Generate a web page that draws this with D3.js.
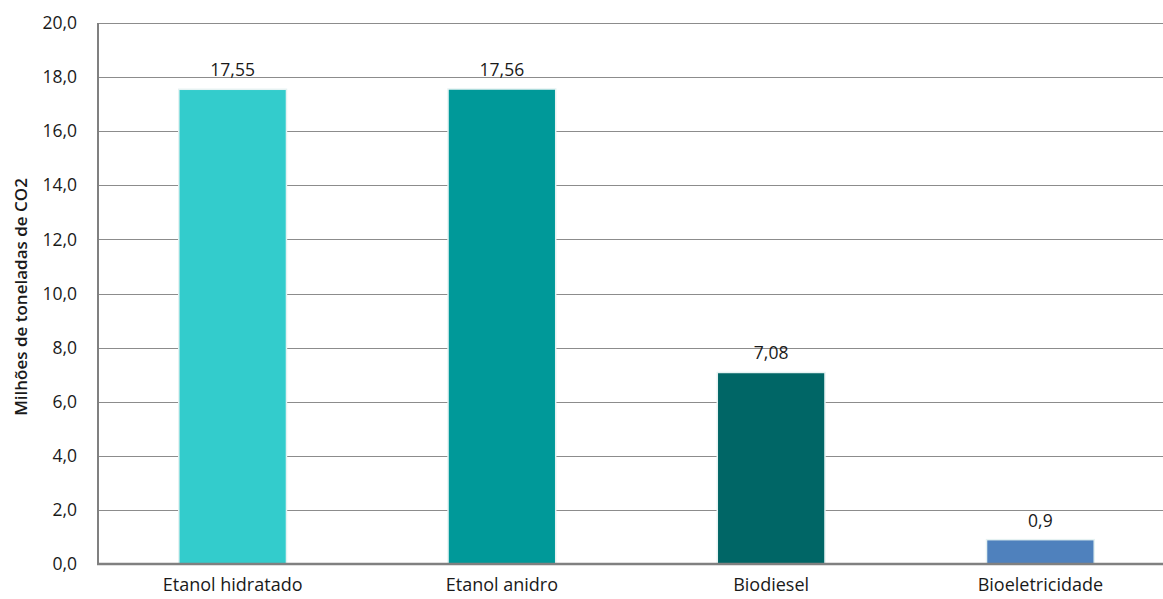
<!DOCTYPE html>
<html>
<head>
<meta charset="utf-8">
<script src="https://cdn.jsdelivr.net/npm/d3@7"></script>
<style>
  body { margin: 0; background: #fff; }
  svg text { font-family: "Open Sans", sans-serif; fill: #1a1a1a; }
</style>
</head>
<body>
<div id="main"></div>
<script>
const layout = {
    width: 1163,
    height: 599,
    left: 98,
    right: 1175,
    top: 23,
    bottom: 564
};

// data
const categories = ["Etanol hidratado", "Etanol anidro", "Biodiesel", "Bioeletricidade"];
const values = [17.55, 17.56, 7.08, 0.9];
const valueLabels = ["17,55", "17,56", "7,08", "0,9"];
const barColors = ["#33cccc", "#009999", "#006666", "#4f81bd"];
const yTicks = [0, 2, 4, 6, 8, 10, 12, 14, 16, 18, 20];

let svg = d3.select("#main").append("svg")
    .attr("width", layout.width)
    .attr("height", layout.height);

let x = d3.scaleBand()
    .domain(categories)
    .range([layout.left, layout.right])
    .paddingInner(0.6)
    .paddingOuter(0.3);

let y = d3.scaleLinear()
    .domain([0, 20])
    .range([layout.bottom, layout.top]);

// gridlines
svg.append("g")
    .selectAll("line")
    .data(yTicks.filter(d => d > 0))
    .enter().append("line")
    .attr("x1", layout.left)
    .attr("x2", layout.right)
    .attr("y1", d => Math.round(y(d)) + 0.5)
    .attr("y2", d => Math.round(y(d)) + 0.5)
    .attr("stroke", "#8c8c8c")
    .attr("stroke-width", 1.2);

// y axis labels
let yAxis = svg.append("g")
    .attr("transform", `translate(${layout.left},0)`)
    .call(d3.axisLeft(y).tickValues(yTicks).tickSize(0).tickPadding(21)
        .tickFormat(d => d3.format(".1f")(d).replace(".", ",")));
yAxis.select(".domain").remove();
yAxis.selectAll("text").attr("font-size", 17.5).style("font-family", "'Open Sans', sans-serif");

// bars
svg.selectAll(".bar")
    .data(values)
    .enter().append("rect")
    .attr("class", "bar")
    .attr("x", (d, i) => x(categories[i]))
    .attr("y", d => y(d))
    .attr("width", x.bandwidth())
    .attr("height", d => y(0) - y(d))
    .attr("fill", (d, i) => barColors[i])
    .attr("stroke", "#e6f2f2")
    .attr("stroke-width", 1.5);

// value labels
svg.selectAll(".val")
    .data(values)
    .enter().append("text")
    .attr("class", "val")
    .attr("x", (d, i) => x(categories[i]) + x.bandwidth() / 2)
    .attr("y", d => y(d) - 13)
    .attr("text-anchor", "middle")
    .attr("font-size", 17.5)
    .text((d, i) => valueLabels[i]);

// axes lines
svg.append("line")
    .attr("x1", layout.left).attr("x2", layout.left)
    .attr("y1", layout.top).attr("y2", layout.bottom + 1)
    .attr("stroke", "#808080").attr("stroke-width", 2);
svg.append("line")
    .attr("x1", layout.left - 1).attr("x2", layout.right)
    .attr("y1", layout.bottom).attr("y2", layout.bottom)
    .attr("stroke", "#808080").attr("stroke-width", 2.5);

// x axis labels
let xAxis = svg.append("g")
    .attr("transform", `translate(0,${layout.bottom})`)
    .call(d3.axisBottom(x).tickSize(0).tickPadding(14));
xAxis.select(".domain").remove();
xAxis.selectAll("text").attr("font-size", 18).style("font-family", "'Open Sans', sans-serif");

// y axis title
svg.append("text")
    .attr("transform", `translate(27,297) rotate(-90)`)
    .attr("text-anchor", "middle")
    .attr("font-size", 17)
    .attr("font-weight", 600)
    .text("Milhões de toneladas de CO2");
</script>
</body>
</html>
